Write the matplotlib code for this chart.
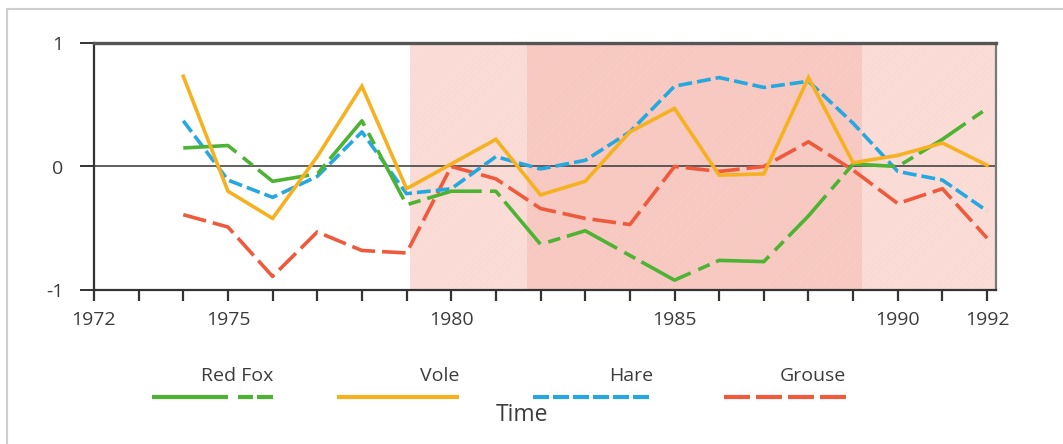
import matplotlib
matplotlib.use('Agg')
import matplotlib.pyplot as plt
from matplotlib.patches import Rectangle
from matplotlib.lines import Line2D

plt.rcParams['font.family'] = ['Open Sans', 'DejaVu Sans']
plt.rcParams['lines.scale_dashes'] = False
plt.rcParams['hatch.linewidth'] = 0.7

years = list(range(1974, 1993))
red_fox = [0.15, 0.17, -0.12, -0.06, 0.37, -0.31, -0.20, -0.20, -0.63, -0.52,
           -0.72, -0.92, -0.76, -0.77, -0.40, 0.02, 0.00, 0.22, 0.47]
vole = [0.73, -0.20, -0.42, 0.08, 0.65, -0.18, 0.02, 0.22, -0.23, -0.12,
        0.28, 0.47, -0.07, -0.06, 0.72, 0.03, 0.09, 0.19, 0.01]
hare = [0.37, -0.11, -0.25, -0.08, 0.28, -0.22, -0.18, 0.08, -0.02, 0.05,
        0.28, 0.65, 0.72, 0.64, 0.69, 0.35, -0.04, -0.11, -0.36]
grouse = [-0.39, -0.49, -0.89, -0.53, -0.68, -0.70, 0.00, -0.10, -0.34, -0.42,
          -0.47, 0.00, -0.04, 0.00, 0.20, -0.03, -0.30, -0.18, -0.58]

# shaded periods
light_span = (1979.07, 1992.2)
dark_span = (1981.7, 1989.2)

tick_years = list(range(1972, 1993))
label_years = [1972, 1975, 1980, 1985, 1990, 1992]

names = ['Red Fox', 'Vole', 'Hare', 'Grouse']
colors = ['#4db332', '#f6b120', '#25a8e0', '#ee5a3b']
txt = '#3c3c3c'

fig = plt.figure(figsize=(10.63, 4.44), dpi=100)
ax = fig.add_axes([0.0884, 0.3468, 0.937 - 0.0884, 0.9032 - 0.3468])

ax.axvspan(*light_span, facecolor='#f8cec6', edgecolor='#fde6e2', hatch='/' * 14, lw=0, zorder=0)
ax.axvspan(*dark_span, facecolor='#f5bcb3', edgecolor='#f9d3cd', hatch='/' * 14, lw=0, zorder=0)
ax.axhline(0, color='#444444', lw=1.2, zorder=1)

ax.plot(years, grouse, color=colors[3], lw=2.6, dashes=(17, 5), zorder=2)
ax.plot(years, hare, color=colors[2], lw=2.6, dashes=(10, 3.6), zorder=3)
ax.plot(years, red_fox, color=colors[0], lw=2.6, dashes=(40, 6, 9, 5), zorder=4)
ax.plot(years, vole, color=colors[1], lw=2.6, solid_joinstyle='miter', zorder=5)

ax.set_xlim(1972, light_span[1])
ax.set_ylim(-1, 1)
ax.set_xticks(tick_years)
ax.set_xticklabels([str(y) if y in label_years else '' for y in tick_years])
ax.set_yticks([-1, 0, 1])
ax.set_yticklabels(['-1', '0', '1'])
ax.tick_params(axis='x', direction='out', length=8, width=1.6, color='#333333',
               labelsize=14, labelcolor=txt, pad=7)
ax.tick_params(axis='y', direction='out', length=10, width=1.4, color='#333333',
               labelsize=14, labelcolor=txt, pad=12)
ax.spines['top'].set_linewidth(2.4)
ax.spines['top'].set_color('#555555')
ax.spines['left'].set_linewidth(1.6)
ax.spines['left'].set_color('#333333')
ax.spines['bottom'].set_linewidth(1.6)
ax.spines['bottom'].set_color('#333333')
ax.spines['right'].set_linewidth(1.6)
ax.spines['right'].set_color('#777777')

# legend drawn underneath the axis, labels sitting above each line sample
leg = fig.add_axes([0, 0, 1, 1], facecolor='none')
leg.set_xlim(0, 1063)
leg.set_ylim(444, 0)
leg.axis('off')
leg_dashes = [(76, 10, 15, 4, 16, 200), None, (16, 4), (26, 6)]
leg_x = [(152, 273), (337, 459), (533, 653), (724, 846)]
for name, c, d, (x0, x1) in zip(names, colors, leg_dashes, leg_x):
    ln = Line2D([x0, x1], [397, 397], color=c, lw=3.0, solid_capstyle='butt')
    if d is not None:
        ln.set_dashes(tuple(v / 1.389 for v in d))
    leg.add_line(ln)
    leg.text(x1, 376, name, ha='right', va='center', fontsize=14, color=txt)
leg.text(522, 415, 'Time', ha='center', va='center', fontsize=16.5, color=txt)

fig.add_artist(Rectangle((7 / 1063, -0.1), 1.1, 1.1 - 9 / 444, transform=fig.transFigure,
                         fill=False, edgecolor='#cfcfcf', lw=1.5))

fig.savefig('out.png', dpi=100)
